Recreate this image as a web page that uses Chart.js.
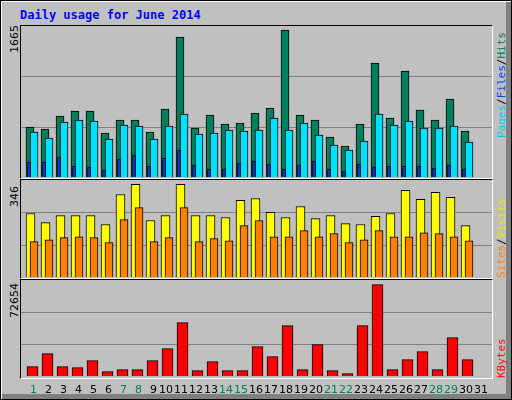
<!DOCTYPE html>
<html><head><meta charset="utf-8">
<script src="https://cdn.jsdelivr.net/npm/chart.js@4/dist/chart.umd.min.js"></script>
<style>
body{margin:0;background:#fff;}
#w{position:absolute;left:0;top:0;width:510px;height:398px;background:#c0c0c0;border-top:1px solid #000;border-left:1px solid #000;border-right:1px solid #000;border-bottom:1px solid #000;box-shadow:inset 1px 1px 0 #fff,inset -5px -5px 0 #808080;overflow:hidden;}
canvas{position:absolute;}
.f{position:absolute;border-top:1px solid #000;border-left:1px solid #000;border-right:1px solid #fff;border-bottom:1px solid #fff;box-sizing:border-box;}
.t{position:absolute;font-family:"DejaVu Sans Mono",monospace;font-weight:bold;font-size:12px;color:#0000ff;left:19px;top:7px;}
.rl{position:absolute;font-family:"DejaVu Sans",sans-serif;font-size:11px;color:#000;transform-origin:0 0;transform:rotate(-90deg);white-space:nowrap;}
.rr{position:absolute;font-family:"DejaVu Sans Mono",monospace;font-size:11px;transform-origin:0 0;transform:rotate(-90deg);white-space:nowrap;}
</style></head><body>
<div id="w">
<div class="t">Daily usage for June 2014</div>
<div class="f" style="left:19px;top:24px;width:473px;height:154px"></div>
<div class="f" style="left:19px;top:178px;width:473px;height:100px"></div>
<div class="f" style="left:19px;top:278px;width:473px;height:100px"></div>
<canvas id="c1" width="471" height="151" style="left:20px;top:25px"></canvas>
<canvas id="c2" width="471" height="97" style="left:20px;top:179px"></canvas>
<canvas id="c3" width="471" height="124" style="left:20px;top:279px"></canvas>
<div class="rl" style="left:7px;top:52px">1665</div>
<div class="rl" style="left:7px;top:206px">346</div>
<div class="rl" style="left:7px;top:317px">72654</div>
<div class="rr" style="left:494px;top:137px"><span style="color:#00c8f0">Pages</span><span style="color:#000">/</span><span style="color:#0040ff">Files</span><span style="color:#000">/</span><span style="color:#00805c">Hits</span></div>
<div class="rr" style="left:494px;top:277px"><span style="color:#ff8000">Sites</span><span style="color:#000">/</span><span style="color:#e8e800">Visits</span></div>
<div class="rr" style="left:494px;top:377px;color:#ff0000">KBytes</div>
</div>
<script>
const days=[1,2,3,4,5,6,7,8,9,10,11,12,13,14,15,16,17,18,19,20,21,22,23,24,25,26,27,28,29,30,31];
const weekend=[1,7,8,14,15,21,22,28,29];
const hits=[567,544,691,748,748,499,646,646,510,770,1586,555,703,601,612,725,782,1665,703,646,453,351,601,1292,669,1201,759,646,884,521];
const files=[510,442,623,646,635,431,589,578,431,578,714,487,499,533,521,533,669,533,612,476,363,306,408,714,589,635,555,555,578,397];
const pages=[170,170,227,125,113,79,204,249,125,215,306,136,91,91,159,181,147,91,136,181,91,68,147,113,125,125,125,102,136,91];
const visits=[237,203,229,229,229,196,308,346,211,229,346,229,229,222,286,293,241,222,263,218,229,199,196,226,237,323,290,316,297,192];
const sites=[132,139,147,150,147,128,214,259,132,147,259,132,143,135,192,211,150,150,173,150,162,128,139,173,150,150,165,162,150,135];
const kbytes=[7426,17768,7426,6630,12199,3448,5039,5039,12199,21746,42432,4243,11404,4243,4243,23338,15382,40045,5039,24929,4243,1856,40045,72654,5039,12995,19360,5039,30498,12995];

function pts(arr,off){return arr.map((v,i)=>({x:days[i]-1+off,y:v}));}
const grid={id:'grid',beforeDatasetsDraw(ch){const y=ch.scales.y,a=ch.chartArea,c=ch.ctx;c.save();c.strokeStyle='#808080';c.lineWidth=1;
 [y.max/3,2*y.max/3].forEach(v=>{const p=Math.round(y.getPixelForValue(v))+0.5;c.beginPath();c.moveTo(a.left,p);c.lineTo(a.right,p);c.stroke();});c.restore();}};
function ds(data,off,color,w,order){return {data:pts(data,off),backgroundColor:color,borderColor:'#000',borderWidth:1,barThickness:w,order:order,grouped:false};}
function mk(id,sets,max,extra,padB){
 return new Chart(document.getElementById(id),{type:'bar',data:{datasets:sets},
 options:{responsive:false,animation:false,devicePixelRatio:1,layout:{padding:{left:0,right:0,top:0,bottom:padB||0}},
 plugins:{legend:{display:false},tooltip:{enabled:false}},
 scales:{x:{type:'linear',min:0,max:31.4,display:false,offset:false},y:{min:0,max:max,display:false}}},
 plugins:[grid].concat(extra||[])});
}
mk('c1',[ds(hits,0.6,'#00805c',8,3),ds(files,0.867,'#00e0ff',8,2),ds(pages,0.533,'#0040ff',3,1)],1711);
mk('c2',[ds(visits,0.633,'#ffff00',9,2),ds(sites,0.867,'#ff8000',8,1)],362);
const labels={id:'lbl',afterDraw(ch){const x=ch.scales.x,c=ch.ctx;c.save();c.font='11px "DejaVu Sans"';c.textAlign='center';c.textBaseline='middle';
 days.forEach(d=>{const s=String(d);c.fillStyle=weekend.includes(d)?'#00805c':'#000';c.fillText(s,x.getPixelForValue(d-1+(s.length==1?0.83:0.67)),110);});c.restore();}};
mk('c3',[ds(kbytes,0.767,'#ff0000',11,1)],76390,[labels],28);
</script>
</body></html>
